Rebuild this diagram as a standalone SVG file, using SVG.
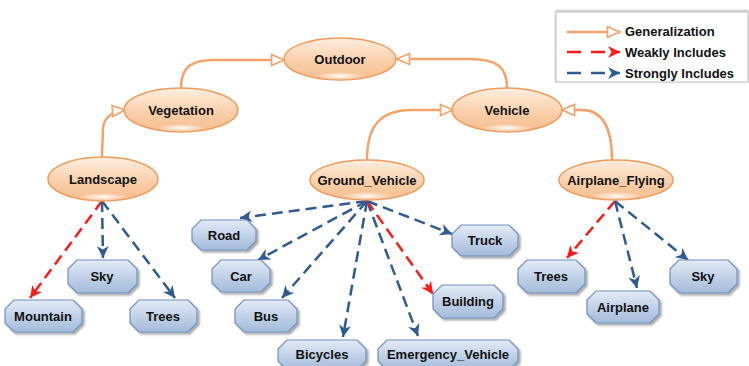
<svg xmlns="http://www.w3.org/2000/svg" width="749" height="366" viewBox="0 0 749 366">
<defs>
<linearGradient id="gOr" x1="0" y1="0" x2="0" y2="1">
<stop offset="0" stop-color="#FEEEDF"/><stop offset="0.6" stop-color="#F9CDA6"/><stop offset="1" stop-color="#F6BC8C"/>
</linearGradient>
<radialGradient id="gHi" cx="0.5" cy="0.5" r="0.5">
<stop offset="0" stop-color="#ffffff" stop-opacity="0.95"/><stop offset="1" stop-color="#ffffff" stop-opacity="0"/>
</radialGradient>
<linearGradient id="gBl" x1="0" y1="0" x2="0" y2="1">
<stop offset="0" stop-color="#E3EBF5"/><stop offset="0.5" stop-color="#C2D2E8"/><stop offset="1" stop-color="#A3BBDB"/>
</linearGradient>
<filter id="sh" x="-10%" y="-20%" width="130%" height="150%">
<feDropShadow dx="2" dy="2" stdDeviation="1.2" flood-color="#000" flood-opacity="0.35"/>
</filter>
<filter id="lsh" x="-5%" y="-10%" width="110%" height="130%">
<feDropShadow dx="0" dy="-1" stdDeviation="1" flood-color="#000" flood-opacity="0.35"/>
</filter>
<marker id="mGen" viewBox="0 0 16 14" refX="14.5" refY="7" markerWidth="16" markerHeight="14" markerUnits="userSpaceOnUse" orient="auto">
<path d="M2,1.5 L14.5,7 L2,12.5 z" fill="#fff" stroke="#F5A268" stroke-width="1.7"/>
</marker>
<marker id="mBlue" viewBox="0 0 10 10" refX="10" refY="5" markerWidth="12" markerHeight="12" markerUnits="userSpaceOnUse" orient="auto">
<path d="M0,0 L10,5 L0,10 L3,5 z" fill="#2F5B92"/>
</marker>
<marker id="mRed" viewBox="0 0 10 10" refX="10" refY="5" markerWidth="12" markerHeight="12" markerUnits="userSpaceOnUse" orient="auto">
<path d="M0,0 L10,5 L0,10 L3,5 z" fill="#FF1A1A"/>
</marker>
</defs>
<style>
text{font-family:"Liberation Sans",Arial,sans-serif;font-weight:bold;font-size:13px;fill:#111;text-anchor:middle}
.lg{font-size:13px;text-anchor:start}
.ell{fill:url(#gOr);stroke:#EF9B5C;stroke-width:1.5}
.hi{fill:url(#gHi)}
.oct{fill:url(#gBl);stroke:#6F8FBE;stroke-width:1.2;filter:url(#sh)}
.gen{fill:none;stroke:#F5A268;stroke-width:2.5;marker-end:url(#mGen)}
.blue{fill:none;stroke:#2F5B92;stroke-width:2.5;stroke-dasharray:11 6;marker-end:url(#mBlue)}
.red{fill:none;stroke:#FF1A1A;stroke-width:2.5;stroke-dasharray:11 6;marker-end:url(#mRed)}
</style>
<rect width="749" height="366" fill="#fff"/>

<g id="legend">
<rect x="556" y="12" width="192" height="70" fill="#fff" stroke="#bdbdbd" stroke-width="1" filter="url(#lsh)"/>
<line x1="567" y1="32" x2="620" y2="32" stroke="#F5A268" stroke-width="2.5" marker-end="url(#mGen)"/>
<line x1="567" y1="52" x2="620" y2="52" stroke="#FF1A1A" stroke-width="2.5" stroke-dasharray="14 10" marker-end="url(#mRed)"/>
<line x1="567" y1="73" x2="620" y2="73" stroke="#2F5B92" stroke-width="2.5" stroke-dasharray="14 10" marker-end="url(#mBlue)"/>
<text class="lg" x="625" y="36">Generalization</text>
<text class="lg" x="625" y="57">Weakly Includes</text>
<text class="lg" x="625" y="78">Strongly Includes</text>
</g>

<g id="connectors">
<path class="gen" d="M181,88 C181,66 192,60 215,60 L284,60"/>
<path class="gen" d="M102,157 L103,128 C104,118 112,111 125,110"/>
<path class="gen" d="M507,88 C507,66 496,59 470,59 L397,59"/>
<path class="gen" d="M367,160 C367,126 380,110 412,110 L453,110"/>
<path class="gen" d="M612,160 C612,127 602,110 582,110 L562,110"/>

<path class="red" d="M102,201 L30,298"/>
<path class="blue" d="M102,201 L103,258"/>
<path class="blue" d="M102,201 L175,298"/>

<path class="blue" d="M367,201 L240,218"/>
<path class="blue" d="M367,201 L258,260"/>
<path class="blue" d="M367,201 L282,298"/>
<path class="blue" d="M367,201 L343,337"/>
<path class="blue" d="M367,201 L418,336"/>
<path class="red" d="M367,201 L433,294"/>
<path class="blue" d="M367,201 L452,234"/>

<path class="red" d="M615,201 L567,258"/>
<path class="blue" d="M615,201 L637,288"/>
<path class="blue" d="M615,201 L688,260"/>
</g>

<g id="Outdoor"><ellipse class="ell" cx="340" cy="59" rx="56" ry="21"/><ellipse class="hi" cx="340" cy="76" rx="26" ry="4"/><text x="340" y="64">Outdoor</text></g>
<g id="Vegetation"><ellipse class="ell" cx="181" cy="110" rx="57" ry="22"/><ellipse class="hi" cx="181" cy="128" rx="26" ry="4"/><text x="181" y="115">Vegetation</text></g>
<g id="Landscape"><ellipse class="ell" cx="103" cy="179" rx="55" ry="22"/><ellipse class="hi" cx="103" cy="197" rx="26" ry="4"/><text x="103" y="184">Landscape</text></g>
<g id="Vehicle"><ellipse class="ell" cx="507" cy="110" rx="55" ry="22"/><ellipse class="hi" cx="507" cy="128" rx="26" ry="4"/><text x="507" y="115">Vehicle</text></g>
<g id="Ground_Vehicle"><ellipse class="ell" cx="367" cy="180" rx="57" ry="20"/><ellipse class="hi" cx="367" cy="196" rx="26" ry="4"/><text x="367" y="185">Ground_Vehicle</text></g>
<g id="Airplane_Flying"><ellipse class="ell" cx="616" cy="180" rx="57" ry="20"/><ellipse class="hi" cx="616" cy="196" rx="26" ry="4"/><text x="616" y="185">Airplane_Flying</text></g>

<g id="Road"><polygon class="oct" points="201,220 247,220 256,229 256,241 247,250 201,250 192,241 192,229"/><text x="224" y="240">Road</text></g>
<g id="Car"><polygon class="oct" points="221,260 261,260 270,269 270,283 261,292 221,292 212,283 212,269"/><text x="241" y="281">Car</text></g>
<g id="Bus"><polygon class="oct" points="244,300 288,300 297,309 297,323 288,332 244,332 235,323 235,309"/><text x="266" y="321">Bus</text></g>
<g id="Bicycles"><polygon class="oct" points="287,340 357,340 366,349 366,361 357,370 287,370 278,361 278,349"/><text x="322" y="359">Bicycles</text></g>
<g id="Emergency_Vehicle"><polygon class="oct" points="387,340 509,340 518,349 518,361 509,370 387,370 378,361 378,349"/><text x="448" y="359">Emergency_Vehicle</text></g>
<g id="Building"><polygon class="oct" points="442,285 494,285 503,294 503,309 494,318 442,318 433,309 433,294"/><text x="468" y="306">Building</text></g>
<g id="Truck"><polygon class="oct" points="461,225 509,225 518,234 518,247 509,256 461,256 452,247 452,234"/><text x="485" y="245">Truck</text></g>
<g id="Sky_L"><polygon class="oct" points="77,260 128,260 137,269 137,284 128,293 77,293 68,284 68,269"/><text x="102" y="281">Sky</text></g>
<g id="Mountain"><polygon class="oct" points="14,300 73,300 82,309 82,323 73,332 14,332 5,323 5,309"/><text x="43" y="321">Mountain</text></g>
<g id="Trees_L"><polygon class="oct" points="139,300 188,300 197,309 197,323 188,332 139,332 130,323 130,309"/><text x="163" y="321">Trees</text></g>
<g id="Trees_R"><polygon class="oct" points="527,260 576,260 585,269 585,284 576,293 527,293 518,284 518,269"/><text x="551" y="281">Trees</text></g>
<g id="Airplane"><polygon class="oct" points="596,291 650,291 659,300 659,314 650,323 596,323 587,314 587,300"/><text x="623" y="312">Airplane</text></g>
<g id="Sky_R"><polygon class="oct" points="679,260 728,260 737,269 737,284 728,293 679,293 670,284 670,269"/><text x="703" y="281">Sky</text></g>
</svg>
